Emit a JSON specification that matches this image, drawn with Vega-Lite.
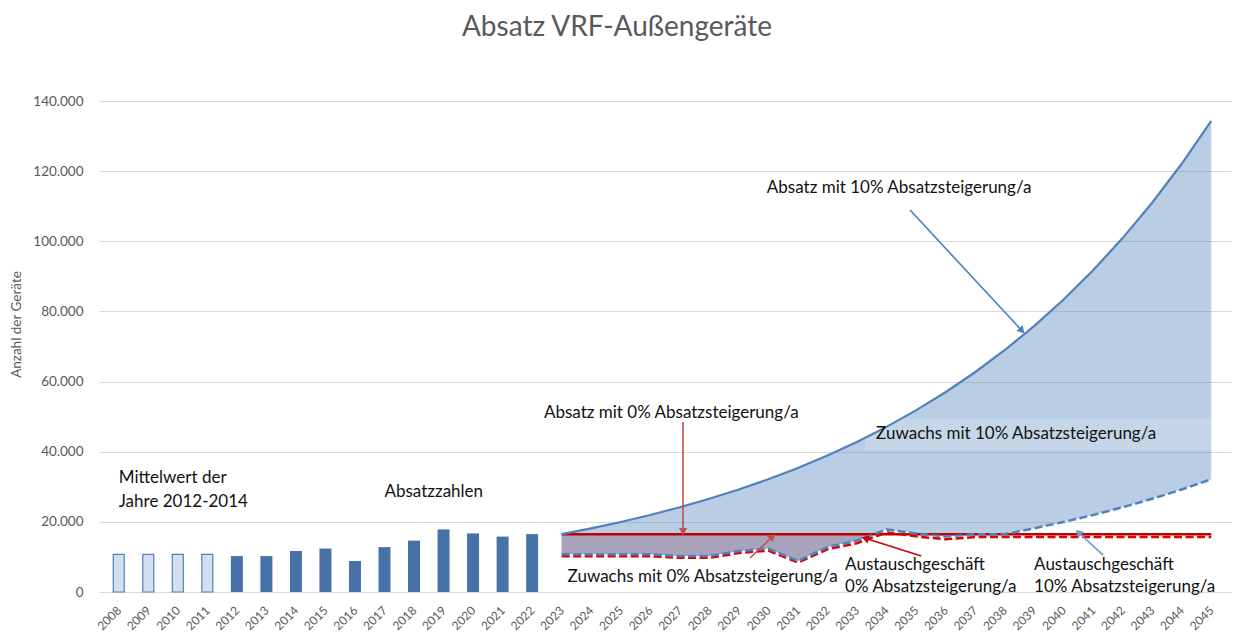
{
  "$schema": "https://vega.github.io/schema/vega-lite/v6.json",
  "width": 1132,
  "height": 491,
  "autosize": {"type": "none"},
  "padding": {"left": 99, "top": 101, "right": 2, "bottom": 49},
  "title": {"text": "Absatz VRF-Außengeräte", "font": "Lato", "fontSize": 28, "fontWeight": "normal", "color": "#595959", "anchor": "middle", "dx": -48, "baseline": "alphabetic", "offset": 30},
  "config": {
    "view": {"stroke": null},
    "font": "Lato",
    "axis": {"labelOverlap": false},
    "axisX": {"grid": false, "ticks": false, "tickSize": 0, "domainColor": "#d9d9d9", "domainWidth": 1, "labelAngle": -45, "labelAlign": "right", "labelBaseline": "middle", "labelPadding": 16, "labelFontSize": 12, "labelColor": "#595959", "labelFont": "Lato", "labelOverlap": false, "labelBound": false, "labelFlush": false, "labelSeparation": 0, "tickCount": 38},
    "axisY": {"grid": true, "gridColor": "#d9d9d9", "domain": false, "ticks": false, "tickSize": 0, "labelPadding": 16, "labelFontSize": 13.5, "labelColor": "#595959", "labelFont": "Lato", "titleFont": "Lato", "titleFontSize": 13.5, "titleFontWeight": "normal", "titleColor": "#595959", "titlePadding": 9, "titleY": 223}
  },
  "datasets": {
    "bars": [
      {"year": 2008, "value": 10750, "kind": "Mittelwert"},
      {"year": 2009, "value": 10750, "kind": "Mittelwert"},
      {"year": 2010, "value": 10750, "kind": "Mittelwert"},
      {"year": 2011, "value": 10750, "kind": "Mittelwert"},
      {"year": 2012, "value": 10250, "kind": "Absatz"},
      {"year": 2013, "value": 10250, "kind": "Absatz"},
      {"year": 2014, "value": 11700, "kind": "Absatz"},
      {"year": 2015, "value": 12400, "kind": "Absatz"},
      {"year": 2016, "value": 8850, "kind": "Absatz"},
      {"year": 2017, "value": 12800, "kind": "Absatz"},
      {"year": 2018, "value": 14650, "kind": "Absatz"},
      {"year": 2019, "value": 17850, "kind": "Absatz"},
      {"year": 2020, "value": 16700, "kind": "Absatz"},
      {"year": 2021, "value": 15800, "kind": "Absatz"},
      {"year": 2022, "value": 16500, "kind": "Absatz"}
    ],
    "forecast": [
      {"year": 2023, "absatz10": 16500, "absatz0": 16500, "austausch10": 10750, "austausch0": 10210},
      {"year": 2024, "absatz10": 18150, "absatz0": 16500, "austausch10": 10750, "austausch0": 10210},
      {"year": 2025, "absatz10": 19970, "absatz0": 16500, "austausch10": 10750, "austausch0": 10210},
      {"year": 2026, "absatz10": 21960, "absatz0": 16500, "austausch10": 10750, "austausch0": 10210},
      {"year": 2027, "absatz10": 24160, "absatz0": 16500, "austausch10": 10250, "austausch0": 9740},
      {"year": 2028, "absatz10": 26570, "absatz0": 16500, "austausch10": 10250, "austausch0": 9740},
      {"year": 2029, "absatz10": 29230, "absatz0": 16500, "austausch10": 11700, "austausch0": 11120},
      {"year": 2030, "absatz10": 32150, "absatz0": 16500, "austausch10": 12400, "austausch0": 11780},
      {"year": 2031, "absatz10": 35370, "absatz0": 16500, "austausch10": 8850, "austausch0": 8410},
      {"year": 2032, "absatz10": 38910, "absatz0": 16500, "austausch10": 12800, "austausch0": 12160},
      {"year": 2033, "absatz10": 42800, "absatz0": 16500, "austausch10": 14650, "austausch0": 13920},
      {"year": 2034, "absatz10": 47080, "absatz0": 16500, "austausch10": 17850, "austausch0": 16960},
      {"year": 2035, "absatz10": 51780, "absatz0": 16500, "austausch10": 16700, "austausch0": 15870},
      {"year": 2036, "absatz10": 56960, "absatz0": 16500, "austausch10": 15800, "austausch0": 15010},
      {"year": 2037, "absatz10": 62660, "absatz0": 16500, "austausch10": 16500, "austausch0": 15680},
      {"year": 2038, "absatz10": 68930, "absatz0": 16500, "austausch10": 16500, "austausch0": 15680},
      {"year": 2039, "absatz10": 75820, "absatz0": 16500, "austausch10": 18150, "austausch0": 15680},
      {"year": 2040, "absatz10": 83400, "absatz0": 16500, "austausch10": 19970, "austausch0": 15680},
      {"year": 2041, "absatz10": 91740, "absatz0": 16500, "austausch10": 21960, "austausch0": 15680},
      {"year": 2042, "absatz10": 100910, "absatz0": 16500, "austausch10": 24160, "austausch0": 15680},
      {"year": 2043, "absatz10": 111000, "absatz0": 16500, "austausch10": 26570, "austausch0": 15680},
      {"year": 2044, "absatz10": 122100, "absatz0": 16500, "austausch10": 29230, "austausch0": 15680},
      {"year": 2045, "absatz10": 134300, "absatz0": 16500, "austausch10": 32150, "austausch0": 15680}
    ],
    "zuwachs0": [
      {"year": 2023, "upper": 16500, "lower": 10750},
      {"year": 2024, "upper": 16500, "lower": 10750},
      {"year": 2025, "upper": 16500, "lower": 10750},
      {"year": 2026, "upper": 16500, "lower": 10750},
      {"year": 2027, "upper": 16500, "lower": 10250},
      {"year": 2028, "upper": 16500, "lower": 10250},
      {"year": 2029, "upper": 16500, "lower": 11700},
      {"year": 2030, "upper": 16500, "lower": 12400},
      {"year": 2031, "upper": 16500, "lower": 8850},
      {"year": 2032, "upper": 16500, "lower": 12800},
      {"year": 2033, "upper": 16500, "lower": 14650},
      {"year": 2033.58, "upper": 16500, "lower": 16500}
    ],
    "band": [
      {"x": 2033.28, "x2": 2045.5, "y": 49500, "y2": 40500}
    ],
    "labels": [
      {"text": "Absatz mit 10% Absatzsteigerung/a", "x": 2029.95, "y": 115200},
      {"text": "Absatz mit 0% Absatzsteigerung/a", "x": 2022.4, "y": 51100},
      {"text": "Zuwachs mit 10% Absatzsteigerung/a", "x": 2033.65, "y": 45000},
      {"text": "Mittelwert der", "x": 2008.0, "y": 32500},
      {"text": "Jahre 2012-2014", "x": 2008.0, "y": 25700},
      {"text": "Absatzzahlen", "x": 2017.0, "y": 28400},
      {"text": "Zuwachs mit 0% Absatzsteigerung/a", "x": 2023.2, "y": 4200},
      {"text": "Austauschgeschäft", "x": 2032.6, "y": 7800},
      {"text": "0% Absatzsteigerung/a", "x": 2032.6, "y": 1400},
      {"text": "Austauschgeschäft", "x": 2039.0, "y": 7800},
      {"text": "10% Absatzsteigerung/a", "x": 2039.0, "y": 1400}
    ],
    "arrows": [
      {"id": "a1", "group": "blue", "x": 2034.8, "y": 108900, "xe": 2038.59, "ye": 74500},
      {"id": "a2", "group": "muted", "x": 2027.11, "y": 48500, "xe": 2027.11, "ye": 17200},
      {"id": "a3", "group": "muted", "x": 2029.38, "y": 9700, "xe": 2030.14, "ye": 15800},
      {"id": "a4", "group": "red", "x": 2035.18, "y": 10270, "xe": 2033.28, "ye": 15300},
      {"id": "a5", "group": "lightblue", "x": 2041.34, "y": 10500, "xe": 2040.5, "ye": 17000}
    ]
  },
  "layer": [
    {
      "data": {"name": "forecast"},
      "mark": {"type": "area", "color": "#4f81bd", "opacity": 0.4},
      "encoding": {
        "x": {"field": "year", "type": "quantitative", "scale": {"domain": [2007.5, 2045.5], "nice": false, "zero": false}, "title": null,
              "axis": {"values": [2008,2009,2010,2011,2012,2013,2014,2015,2016,2017,2018,2019,2020,2021,2022,2023,2024,2025,2026,2027,2028,2029,2030,2031,2032,2033,2034,2035,2036,2037,2038,2039,2040,2041,2042,2043,2044,2045], "tickCount": 38, "format": "d", "labelOverlap": false}},
        "y": {"field": "absatz10", "type": "quantitative", "scale": {"domain": [0, 140000], "nice": false}, "title": "Anzahl der Geräte",
              "axis": {"values": [0,20000,40000,60000,80000,100000,120000,140000], "labelExpr": "replace(format(datum.value, ','), ',', '.')"}},
        "y2": {"field": "austausch10"}
      }
    },
    {
      "data": {"name": "zuwachs0"},
      "mark": {"type": "area", "color": "#a8a2ba", "opacity": 1},
      "encoding": {
        "x": {"field": "year", "type": "quantitative", "title": null, "axis": {"values": [2008,2009,2010,2011,2012,2013,2014,2015,2016,2017,2018,2019,2020,2021,2022,2023,2024,2025,2026,2027,2028,2029,2030,2031,2032,2033,2034,2035,2036,2037,2038,2039,2040,2041,2042,2043,2044,2045], "tickCount": 38, "format": "d", "labelOverlap": false}},
        "y": {"field": "upper", "type": "quantitative", "title": "Anzahl der Geräte"},
        "y2": {"field": "lower"}
      }
    },
    {
      "data": {"name": "band"},
      "mark": {"type": "rect", "color": "#ffffff", "opacity": 0.18},
      "encoding": {
        "x": {"field": "x", "type": "quantitative", "title": null, "axis": {"values": [2008,2009,2010,2011,2012,2013,2014,2015,2016,2017,2018,2019,2020,2021,2022,2023,2024,2025,2026,2027,2028,2029,2030,2031,2032,2033,2034,2035,2036,2037,2038,2039,2040,2041,2042,2043,2044,2045], "tickCount": 38, "format": "d", "labelOverlap": false}},
        "x2": {"field": "x2"},
        "y": {"field": "y", "type": "quantitative", "title": "Anzahl der Geräte"},
        "y2": {"field": "y2"}
      }
    },
    {
      "data": {"name": "bars"},
      "transform": [{"filter": "datum.kind === 'Mittelwert'"}],
      "mark": {"type": "bar", "size": 11, "color": "#d3dff0", "stroke": "#4f81bd", "strokeWidth": 1.2},
      "encoding": {
        "x": {"field": "year", "type": "quantitative", "title": null, "axis": {"values": [2008,2009,2010,2011,2012,2013,2014,2015,2016,2017,2018,2019,2020,2021,2022,2023,2024,2025,2026,2027,2028,2029,2030,2031,2032,2033,2034,2035,2036,2037,2038,2039,2040,2041,2042,2043,2044,2045], "tickCount": 38, "format": "d", "labelOverlap": false}},
        "y": {"field": "value", "type": "quantitative", "title": "Anzahl der Geräte"}
      }
    },
    {
      "data": {"name": "bars"},
      "transform": [{"filter": "datum.kind === 'Absatz'"}],
      "mark": {"type": "bar", "size": 12, "color": "#4672a8"},
      "encoding": {
        "x": {"field": "year", "type": "quantitative", "title": null, "axis": {"values": [2008,2009,2010,2011,2012,2013,2014,2015,2016,2017,2018,2019,2020,2021,2022,2023,2024,2025,2026,2027,2028,2029,2030,2031,2032,2033,2034,2035,2036,2037,2038,2039,2040,2041,2042,2043,2044,2045], "tickCount": 38, "format": "d", "labelOverlap": false}},
        "y": {"field": "value", "type": "quantitative", "title": "Anzahl der Geräte"}
      }
    },
    {
      "data": {"name": "forecast"},
      "mark": {"type": "line", "color": "#c00000", "strokeWidth": 2.5},
      "encoding": {
        "x": {"field": "year", "type": "quantitative", "title": null, "axis": {"values": [2008,2009,2010,2011,2012,2013,2014,2015,2016,2017,2018,2019,2020,2021,2022,2023,2024,2025,2026,2027,2028,2029,2030,2031,2032,2033,2034,2035,2036,2037,2038,2039,2040,2041,2042,2043,2044,2045], "tickCount": 38, "format": "d", "labelOverlap": false}},
        "y": {"field": "absatz0", "type": "quantitative", "title": "Anzahl der Geräte"}
      }
    },
    {
      "data": {"name": "forecast"},
      "mark": {"type": "line", "color": "#e00000", "strokeWidth": 2.5, "strokeDash": [8, 3.5]},
      "encoding": {
        "x": {"field": "year", "type": "quantitative", "title": null, "axis": {"values": [2008,2009,2010,2011,2012,2013,2014,2015,2016,2017,2018,2019,2020,2021,2022,2023,2024,2025,2026,2027,2028,2029,2030,2031,2032,2033,2034,2035,2036,2037,2038,2039,2040,2041,2042,2043,2044,2045], "tickCount": 38, "format": "d", "labelOverlap": false}},
        "y": {"field": "austausch0", "type": "quantitative", "title": "Anzahl der Geräte"}
      }
    },
    {
      "data": {"name": "forecast"},
      "mark": {"type": "line", "color": "#4f81bd", "strokeWidth": 2.5, "strokeDash": [8, 3.5]},
      "encoding": {
        "x": {"field": "year", "type": "quantitative", "title": null, "axis": {"values": [2008,2009,2010,2011,2012,2013,2014,2015,2016,2017,2018,2019,2020,2021,2022,2023,2024,2025,2026,2027,2028,2029,2030,2031,2032,2033,2034,2035,2036,2037,2038,2039,2040,2041,2042,2043,2044,2045], "tickCount": 38, "format": "d", "labelOverlap": false}},
        "y": {"field": "austausch10", "type": "quantitative", "title": "Anzahl der Geräte"}
      }
    },
    {
      "data": {"name": "forecast"},
      "mark": {"type": "line", "color": "#4f81bd", "strokeWidth": 2.2},
      "encoding": {
        "x": {"field": "year", "type": "quantitative", "title": null, "axis": {"values": [2008,2009,2010,2011,2012,2013,2014,2015,2016,2017,2018,2019,2020,2021,2022,2023,2024,2025,2026,2027,2028,2029,2030,2031,2032,2033,2034,2035,2036,2037,2038,2039,2040,2041,2042,2043,2044,2045], "tickCount": 38, "format": "d", "labelOverlap": false}},
        "y": {"field": "absatz10", "type": "quantitative", "title": "Anzahl der Geräte"}
      }
    },
    {
      "data": {"name": "arrows"},
      "mark": {"type": "rule", "strokeWidth": 1.6},
      "encoding": {
        "x": {"field": "x", "type": "quantitative", "title": null, "axis": {"values": [2008,2009,2010,2011,2012,2013,2014,2015,2016,2017,2018,2019,2020,2021,2022,2023,2024,2025,2026,2027,2028,2029,2030,2031,2032,2033,2034,2035,2036,2037,2038,2039,2040,2041,2042,2043,2044,2045], "tickCount": 38, "format": "d", "labelOverlap": false}},
        "x2": {"field": "xe"},
        "y": {"field": "y", "type": "quantitative", "title": "Anzahl der Geräte"},
        "y2": {"field": "ye"},
        "color": {"field": "group", "type": "nominal", "legend": null, "scale": {"domain": ["blue", "muted", "red", "lightblue"], "range": ["#4a7dbd", "#c0504d", "#d00000", "#6f9bd2"]}}
      }
    },
    {
      "data": {"name": "arrows"},
      "transform": [{"filter": "datum.id === 'a1'"}],
      "mark": {"type": "point", "shape": "triangle-up", "filled": true, "opacity": 1, "size": 70, "angle": 137},
      "encoding": {
        "x": {"field": "xe", "type": "quantitative", "title": null, "axis": {"values": [2008,2009,2010,2011,2012,2013,2014,2015,2016,2017,2018,2019,2020,2021,2022,2023,2024,2025,2026,2027,2028,2029,2030,2031,2032,2033,2034,2035,2036,2037,2038,2039,2040,2041,2042,2043,2044,2045], "tickCount": 38, "format": "d", "labelOverlap": false}},
        "y": {"field": "ye", "type": "quantitative", "title": "Anzahl der Geräte"},
        "color": {"field": "group", "type": "nominal", "legend": null}
      }
    },
    {
      "data": {"name": "arrows"},
      "transform": [{"filter": "datum.id === 'a2'"}],
      "mark": {"type": "point", "shape": "triangle-up", "filled": true, "opacity": 1, "size": 70, "angle": 180},
      "encoding": {
        "x": {"field": "xe", "type": "quantitative", "title": null, "axis": {"values": [2008,2009,2010,2011,2012,2013,2014,2015,2016,2017,2018,2019,2020,2021,2022,2023,2024,2025,2026,2027,2028,2029,2030,2031,2032,2033,2034,2035,2036,2037,2038,2039,2040,2041,2042,2043,2044,2045], "tickCount": 38, "format": "d", "labelOverlap": false}},
        "y": {"field": "ye", "type": "quantitative", "title": "Anzahl der Geräte"},
        "color": {"field": "group", "type": "nominal", "legend": null}
      }
    },
    {
      "data": {"name": "arrows"},
      "transform": [{"filter": "datum.id === 'a3'"}],
      "mark": {"type": "point", "shape": "triangle-up", "filled": true, "opacity": 1, "size": 70, "angle": 47},
      "encoding": {
        "x": {"field": "xe", "type": "quantitative", "title": null, "axis": {"values": [2008,2009,2010,2011,2012,2013,2014,2015,2016,2017,2018,2019,2020,2021,2022,2023,2024,2025,2026,2027,2028,2029,2030,2031,2032,2033,2034,2035,2036,2037,2038,2039,2040,2041,2042,2043,2044,2045], "tickCount": 38, "format": "d", "labelOverlap": false}},
        "y": {"field": "ye", "type": "quantitative", "title": "Anzahl der Geräte"},
        "color": {"field": "group", "type": "nominal", "legend": null}
      }
    },
    {
      "data": {"name": "arrows"},
      "transform": [{"filter": "datum.id === 'a4'"}],
      "mark": {"type": "point", "shape": "triangle-up", "filled": true, "opacity": 1, "size": 70, "angle": 287},
      "encoding": {
        "x": {"field": "xe", "type": "quantitative", "title": null, "axis": {"values": [2008,2009,2010,2011,2012,2013,2014,2015,2016,2017,2018,2019,2020,2021,2022,2023,2024,2025,2026,2027,2028,2029,2030,2031,2032,2033,2034,2035,2036,2037,2038,2039,2040,2041,2042,2043,2044,2045], "tickCount": 38, "format": "d", "labelOverlap": false}},
        "y": {"field": "ye", "type": "quantitative", "title": "Anzahl der Geräte"},
        "color": {"field": "group", "type": "nominal", "legend": null}
      }
    },
    {
      "data": {"name": "arrows"},
      "transform": [{"filter": "datum.id === 'a5'"}],
      "mark": {"type": "point", "shape": "triangle-up", "filled": true, "opacity": 1, "size": 70, "angle": 312},
      "encoding": {
        "x": {"field": "xe", "type": "quantitative", "title": null, "axis": {"values": [2008,2009,2010,2011,2012,2013,2014,2015,2016,2017,2018,2019,2020,2021,2022,2023,2024,2025,2026,2027,2028,2029,2030,2031,2032,2033,2034,2035,2036,2037,2038,2039,2040,2041,2042,2043,2044,2045], "tickCount": 38, "format": "d", "labelOverlap": false}},
        "y": {"field": "ye", "type": "quantitative", "title": "Anzahl der Geräte"},
        "color": {"field": "group", "type": "nominal", "legend": null}
      }
    },
    {
      "data": {"name": "labels"},
      "mark": {"type": "text", "align": "left", "baseline": "middle", "font": "Lato", "fontSize": 17, "color": "#111111"},
      "encoding": {
        "x": {"field": "x", "type": "quantitative", "title": null, "axis": {"values": [2008,2009,2010,2011,2012,2013,2014,2015,2016,2017,2018,2019,2020,2021,2022,2023,2024,2025,2026,2027,2028,2029,2030,2031,2032,2033,2034,2035,2036,2037,2038,2039,2040,2041,2042,2043,2044,2045], "tickCount": 38, "format": "d", "labelOverlap": false}},
        "y": {"field": "y", "type": "quantitative", "title": "Anzahl der Geräte"},
        "text": {"field": "text"}
      }
    }
  ]
}
